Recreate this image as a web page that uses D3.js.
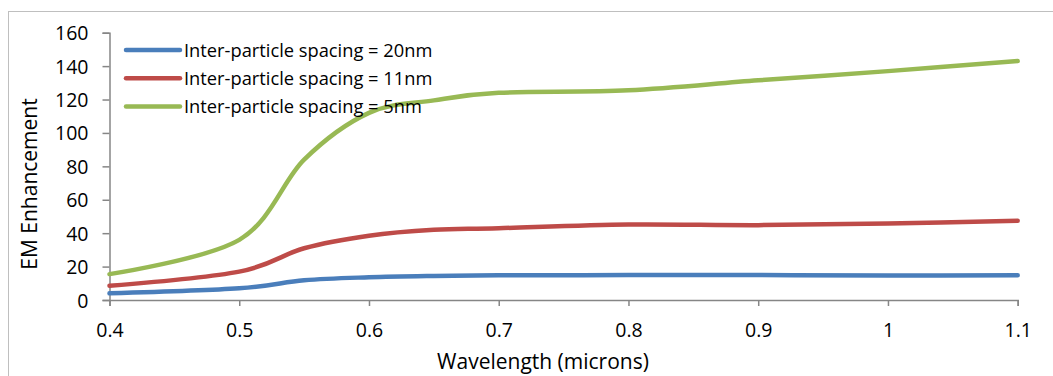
<!DOCTYPE html>
<html>
<head>
<meta charset="utf-8">
<script src="https://cdn.jsdelivr.net/npm/d3@7"></script>
<style>
  body { margin: 0; background: #fff; }
  text { font-family: "Open Sans", sans-serif; fill: #000; }
</style>
</head>
<body>
<div id="chart"></div>
<script>
// wavelength in microns
var wavelengths = [0.4, 0.5, 0.55, 0.6, 0.65, 0.7, 0.8, 0.9, 1.0, 1.1];

// EM enhancement for each spacing
var spacing20 = [4.0, 7.0, 11.8, 13.6, 14.4, 14.8, 14.9, 14.9, 14.7, 14.8];
var spacing11 = [8.5, 17.0, 31.0, 38.5, 42.0, 43.0, 45.2, 44.8, 45.8, 47.4];
var spacing5  = [15.5, 36.0, 84.0, 112.0, 119.5, 124.0, 125.5, 131.5, 137.0, 143.0];

var seriesNames = ["Inter-particle spacing = 20nm", "Inter-particle spacing = 11nm", "Inter-particle spacing = 5nm"];
var seriesColors = ["#4a7ebb", "#be4b48", "#98b954"];

var xTicks = [0.4, 0.5, 0.6, 0.7, 0.8, 0.9, 1, 1.1];
var yTicks = [0, 20, 40, 60, 80, 100, 120, 140, 160];

var width = 1053, height = 376;
var svg = d3.select("#chart").append("svg").attr("width", width).attr("height", height);

// outer chart frame (runs off the right and bottom edge)
svg.append("rect")
  .attr("x", 8.5).attr("y", 11.5)
  .attr("width", 1100).attr("height", 400)
  .attr("fill", "none")
  .attr("stroke", "#bfbfbf")
  .attr("stroke-width", 1);

var margin = {top: 32.7, left: 109.5, right: 1017.7, bottom: 300};

var x = d3.scaleLinear().domain([0.4, 1.1]).range([margin.left, margin.right]);
var y = d3.scaleLinear().domain([0, 160]).range([margin.bottom, margin.top]);

// axes
var xAxis = svg.append("g")
  .attr("transform", "translate(0," + margin.bottom + ")")
  .call(d3.axisBottom(x).tickValues(xTicks).tickSize(6).tickPadding(17)
    .tickFormat(function(d) { return d3.format("")(d); }));

var yAxis = svg.append("g")
  .attr("transform", "translate(" + margin.left + ",0)")
  .call(d3.axisLeft(y).tickValues(yTicks).tickSize(7).tickPadding(14));

[xAxis, yAxis].forEach(function(a) {
  a.select(".domain").attr("stroke", "#868686").attr("stroke-width", 1.5);
  a.selectAll(".tick line").attr("stroke", "#868686").attr("stroke-width", 1.5);
  a.selectAll(".tick text").attr("font-size", "19.5px").attr("fill", "#000")
    .style("font-family", "'Open Sans', sans-serif");
});
yAxis.selectAll(".tick text").attr("dy", "0.36em");
xAxis.selectAll(".tick text").attr("dy", "0.71em");

// axis titles
svg.append("text")
  .attr("x", 543).attr("y", 369)
  .attr("text-anchor", "middle")
  .attr("font-size", "21px")
  .text("Wavelength (microns)");

svg.append("text")
  .attr("transform", "translate(37,184) rotate(-90)")
  .attr("text-anchor", "middle")
  .attr("font-size", "21px")
  .text("EM Enhancement");

// series lines
var allSeries = [spacing20, spacing11, spacing5];
var line = d3.line()
  .x(function(d, i) { return x(wavelengths[i]); })
  .y(function(d) { return y(d); })
  .curve(d3.curveCardinal.tension(0));

allSeries.forEach(function(s, i) {
  svg.append("path")
    .datum(s)
    .attr("fill", "none")
    .attr("stroke", seriesColors[i])
    .attr("stroke-width", 4.5)
    .attr("stroke-linejoin", "round")
    .attr("stroke-linecap", "round")
    .attr("d", line);
});

// legend
for (var i = 0; i < 3; i++) {
  svg.append("line")
    .attr("x1", 126).attr("x2", 180)
    .attr("y1", 50 + 28.3 * i).attr("y2", 50 + 28.3 * i)
    .attr("stroke", seriesColors[i])
    .attr("stroke-width", 4.5)
    .attr("stroke-linecap", "round");

  svg.append("text")
    .attr("x", 184)
    .attr("y", 50 + 28.3 * i)
    .attr("dy", "0.36em")
    .attr("font-size", "18.3px")
    .text(seriesNames[i]);
}
</script>
</body>
</html>
